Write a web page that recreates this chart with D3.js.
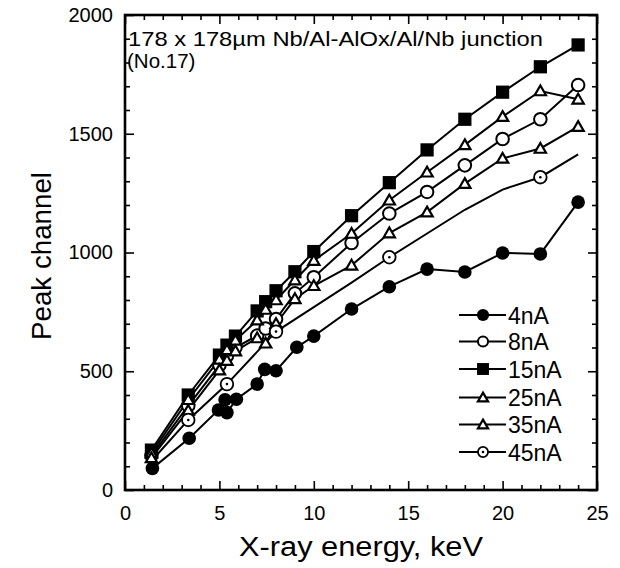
<!DOCTYPE html>
<html>
<head>
<meta charset="utf-8">
<script src="https://cdn.jsdelivr.net/npm/d3@7"></script>
<style>
  html, body { margin: 0; padding: 0; background: #fff; }
  svg { display: block; font-family: "Liberation Sans", Arial, Helvetica, sans-serif; }
</style>
</head>
<body>
<svg id="chart" width="620" height="568"></svg>
<script>
// ---- data ----
const E = [1.4, 3.35, 5.0, 5.4, 5.85, 7.0, 7.45, 8.0, 9.0, 10, 12, 14, 16, 18, 20, 22, 24];
const s15nA = [168, 400, 568, 610, 648, 754, 793, 839, 919, 1004, 1155, 1294, 1432, 1561, 1675, 1782, 1874];
const s25nA = [155, 380, 550, 590, 630, 715, 760, 800, 884, 966, 1080, 1220, 1338, 1453, 1572, 1680, 1645];
const s8nA  = [145, 355, 525, 565, 600, 650, 680, 720, 828, 896, 1040, 1164, 1255, 1367, 1478, 1561, 1705];
const s35nA = [135, 335, 505, 545, 585, 640, 618, 700, 805, 860, 946, 1082, 1170, 1290, 1396, 1438, 1530];
const E4    = [1.45, 3.4, 4.95, 5.3, 5.4, 5.9, 7.0, 7.4, 8.0, 9.1, 10, 12, 14, 16, 18, 20, 22, 24];
const s4nA  = [91, 218, 337, 380, 326, 382, 446, 508, 502, 601, 648, 762, 856, 930, 918, 998, 994, 1212];
const E45   = [1.4, 3.35, 5.4, 8.0, 10, 12, 14, 16, 18, 20, 22, 24];
const s45nA = [122, 295, 446, 667, 770, 873, 980, 1080, 1180, 1265, 1317, 1413];
const marked45 = [3.35, 5.4, 8.0, 14, 22];   // energies where the 45nA marker is visible

const seriesNames = ["4nA", "8nA", "15nA", "25nA", "35nA", "45nA"];
const xTicks = [0, 5, 10, 15, 20, 25];
const yTicks = [0, 500, 1000, 1500, 2000];
const titleLines = ["178 x 178\u00B5m Nb/Al-AlOx/Al/Nb junction", "(No.17)"];
const xLabel = "X-ray energy, keV";
const yLabel = "Peak channel";

// ---- build ----
const svg = d3.select("#chart");
const x = d3.scaleLinear().domain([0, 25]).range([125, 597]);
const y = d3.scaleLinear().domain([0, 2000]).range([490, 15]);

const series = [
  { name: "4nA",  xs: E4,  ys: s4nA,  shape: "fcircle" },
  { name: "8nA",  xs: E,   ys: s8nA,  shape: "ocircle" },
  { name: "15nA", xs: E,   ys: s15nA, shape: "square" },
  { name: "25nA", xs: E,   ys: s25nA, shape: "triangle" },
  { name: "35nA", xs: E,   ys: s35nA, shape: "triangle" },
  { name: "45nA", xs: E45, ys: s45nA, shape: "dcircle", marked: marked45 }
];

const line = d3.line().x(d => x(d[0])).y(d => y(d[1]));

function drawMarker(g, shape, cx, cy, scale) {
  scale = scale || 1;
  if (shape === "fcircle") {
    g.append("circle").attr("cx", cx).attr("cy", cy).attr("r", 6.8 * scale).attr("fill", "#000");
  } else if (shape === "ocircle") {
    g.append("circle").attr("cx", cx).attr("cy", cy).attr("r", 6.3 * scale)
      .attr("fill", "#fff").attr("stroke", "#000").attr("stroke-width", 2);
  } else if (shape === "dcircle") {
    g.append("circle").attr("cx", cx).attr("cy", cy).attr("r", 6.3 * scale)
      .attr("fill", "#fff").attr("stroke", "#000").attr("stroke-width", 1.8);
    g.append("circle").attr("cx", cx).attr("cy", cy).attr("r", 1.3).attr("fill", "#000");
  } else if (shape === "square") {
    g.append("path").attr("transform", `translate(${cx},${cy})`)
      .attr("d", d3.symbol().type(d3.symbolSquare).size(175 * scale * scale)()).attr("fill", "#000");
  } else if (shape === "triangle") {
    g.append("path").attr("transform", `translate(${cx},${cy + 1})`)
      .attr("d", d3.symbol().type(d3.symbolTriangle).size(55 * scale * scale)())
      .attr("fill", "#fff").attr("stroke", "#000").attr("stroke-width", 2.2);
  }
}

// lines
const gLines = svg.append("g");
series.forEach(s => {
  const pts = s.xs.map((e, i) => [e, s.ys[i]]);
  gLines.append("path").datum(pts).attr("d", line)
    .attr("fill", "none").attr("stroke", "#000").attr("stroke-width", 2);
});

// markers
const gMarks = svg.append("g");
series.forEach(s => {
  s.xs.forEach((e, i) => {
    if (s.marked && s.marked.indexOf(e) < 0) return;
    drawMarker(gMarks, s.shape, x(e), y(s.ys[i]));
  });
});

// axes (inward ticks on all four sides)
const minorX = d3.range(1, 25).filter(v => v % 5 !== 0);
const minorY = d3.range(100, 2000, 100).filter(v => v % 500 !== 0);

function styleAxis(g) {
  g.select(".domain").remove();
  g.selectAll("line").attr("stroke", "#000").attr("stroke-width", 1.6);
  g.selectAll("text").attr("fill", "#000").attr("font-size", 20)
    .attr("font-family", "Liberation Sans, Arial, sans-serif");
}

svg.append("g").attr("transform", "translate(0,490)")
  .call(d3.axisBottom(x).tickValues(xTicks).tickSize(-9).tickPadding(16).tickFormat(d3.format("d")))
  .call(styleAxis);
svg.append("g").attr("transform", "translate(0,490)")
  .call(d3.axisBottom(x).tickValues(minorX).tickSize(-5).tickFormat(""))
  .call(styleAxis);
svg.append("g").attr("transform", "translate(0,15)")
  .call(d3.axisTop(x).tickValues(xTicks).tickSize(-9).tickFormat(""))
  .call(styleAxis);
svg.append("g").attr("transform", "translate(0,15)")
  .call(d3.axisTop(x).tickValues(minorX).tickSize(-5).tickFormat(""))
  .call(styleAxis);
svg.append("g").attr("transform", "translate(125,0)")
  .call(d3.axisLeft(y).tickValues(yTicks).tickSize(-9).tickPadding(12).tickFormat(d3.format("d")))
  .call(styleAxis);
svg.append("g").attr("transform", "translate(125,0)")
  .call(d3.axisLeft(y).tickValues(minorY).tickSize(-5).tickFormat(""))
  .call(styleAxis);
svg.append("g").attr("transform", "translate(597,0)")
  .call(d3.axisRight(y).tickValues(yTicks).tickSize(-9).tickFormat(""))
  .call(styleAxis);
svg.append("g").attr("transform", "translate(597,0)")
  .call(d3.axisRight(y).tickValues(minorY).tickSize(-5).tickFormat(""))
  .call(styleAxis);

// frame
svg.append("rect").attr("x", 125).attr("y", 15).attr("width", 472).attr("height", 475)
  .attr("fill", "none").attr("stroke", "#000").attr("stroke-width", 2.6);

// title text inside plot
svg.append("text").attr("x", 128).attr("y", 46).attr("font-size", 20.5)
  .attr("textLength", 415).attr("lengthAdjust", "spacingAndGlyphs").text(titleLines[0]);
svg.append("text").attr("x", 127).attr("y", 68).attr("font-size", 20.5).text(titleLines[1]);

// axis labels
svg.append("text").attr("x", 361).attr("y", 556).attr("text-anchor", "middle")
  .attr("font-size", 27).attr("textLength", 244).attr("lengthAdjust", "spacingAndGlyphs").text(xLabel);
svg.append("text").attr("transform", "translate(51,256) rotate(-90)").attr("text-anchor", "middle")
  .attr("font-size", 27).attr("textLength", 168).attr("lengthAdjust", "spacingAndGlyphs").text(yLabel);

// legend
const legRows = [315, 341.5, 369, 397.5, 424.5, 452];
const gLeg = svg.append("g");
series.forEach((s, i) => {
  const ly = legRows[i];
  gLeg.append("line").attr("x1", 459).attr("x2", 506).attr("y1", ly).attr("y2", ly)
    .attr("stroke", "#000").attr("stroke-width", 2);
  drawMarker(gLeg, s.shape, 483, ly, s.shape === "ocircle" || s.shape === "dcircle" ? 0.8 : 0.9);
  gLeg.append("text").attr("x", 508).attr("y", ly + 8.5).attr("font-size", 23).text(seriesNames[i]);
});
</script>
</body>
</html>
